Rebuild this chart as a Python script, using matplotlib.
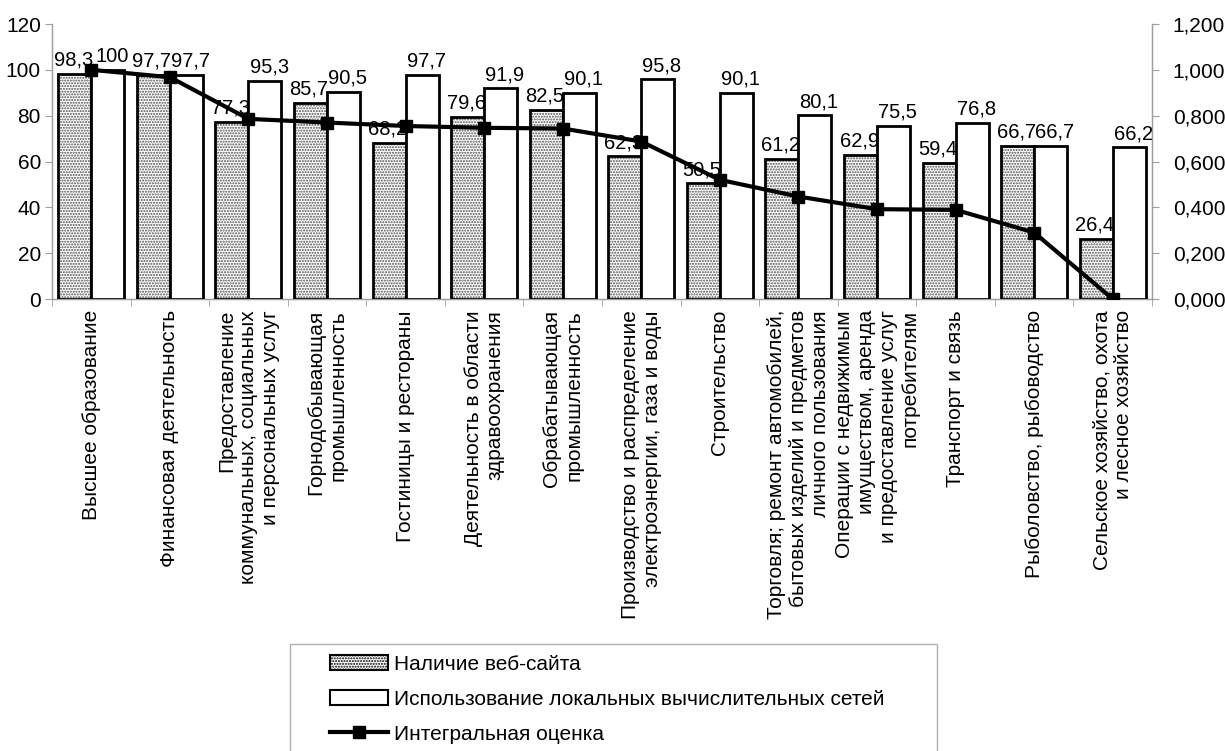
import numpy as np
import matplotlib
matplotlib.use('Agg')
import matplotlib.pyplot as plt
from matplotlib.patches import Patch, Rectangle
from matplotlib.lines import Line2D

plt.rcParams['font.family'] = ['Liberation Sans', 'DejaVu Sans']
plt.rcParams['hatch.linewidth'] = 1.0

# data
categories = [
    'Высшее образование',
    'Финансовая деятельность',
    'Предоставление\nкоммунальных, социальных\nи персональных услуг',
    'Горнодобывающая\nпромышленность',
    'Гостиницы и рестораны',
    'Деятельность в области\nздравоохранения',
    'Обрабатывающая\nпромышленность',
    'Производство и распределение\nэлектроэнергии, газа и воды',
    'Строительство',
    'Торговля; ремонт автомобилей,\nбытовых изделий и предметов\nличного пользования',
    'Операции с недвижимым\nимуществом, аренда\nи предоставление услуг\nпотребителям',
    'Транспорт и связь',
    'Рыболовство, рыбоводство',
    'Сельское хозяйство, охота\nи лесное хозяйство',
]
website = [98.3, 97.7, 77.3, 85.7, 68.2, 79.6, 82.5, 62.3, 50.5, 61.2, 62.9, 59.4, 66.7, 26.4]
lan = [100, 97.7, 95.3, 90.5, 97.7, 91.9, 90.1, 95.8, 90.1, 80.1, 75.5, 76.8, 66.7, 66.2]
integral = [1.000, 0.968, 0.786, 0.770, 0.755, 0.747, 0.744, 0.687, 0.520, 0.447, 0.392, 0.389, 0.290, 0.000]

left_ticks = [0, 20, 40, 60, 80, 100, 120]
right_ticks = [0.0, 0.2, 0.4, 0.6, 0.8, 1.0, 1.2]

series_names = ['Наличие веб-сайта',
                'Использование локальных вычислительных сетей',
                'Интегральная оценка']


def fmt_comma(v):
    # russian decimal comma, integers without decimals
    if float(v).is_integer():
        return str(int(v))
    return ('%.1f' % v).replace('.', ',')


fig = plt.figure(figsize=(12.25, 7.51), dpi=100)
ax = fig.add_axes([52/1225, 1 - 299/751, 1100/1225, 275/751])

x = np.arange(len(categories))
w = 0.42
grey = '#a0a0a0'

# dotted bars: hatch layer then black outline
ax.bar(x - w/2, website, w, color='white', edgecolor='#505050', hatch='......', linewidth=0, zorder=2)
ax.bar(x - w/2, website, w, fill=False, edgecolor='black', linewidth=2, zorder=3)
ax.bar(x + w/2, lan, w, color='white', edgecolor='black', linewidth=2, zorder=3)

for xi, v in zip(x, website):
    ax.annotate(fmt_comma(v), (xi - w/2, v), xytext=(-1, 3), textcoords='offset points',
                ha='center', va='bottom', fontsize=14.5, zorder=6)
for xi, v in zip(x, lan):
    ax.annotate(fmt_comma(v), (xi + w/2, v), xytext=(3, 3), textcoords='offset points',
                ha='center', va='bottom', fontsize=14.5, zorder=6)

ax.set_xlim(-0.5, len(categories) - 0.5)
ax.set_ylim(0, 120)
ax.set_yticks(left_ticks)
ax.set_yticklabels([str(t) for t in left_ticks], fontsize=15)

ax.set_xticks(x)
ax.set_xticklabels(categories, rotation=90, fontsize=15, multialignment='right')
ax.tick_params(axis='x', length=0, pad=8)
ax.set_xticks(np.arange(-0.5, len(categories), 1), minor=True)
ax.tick_params(axis='x', which='minor', length=5, color=grey, direction='out')
ax.tick_params(axis='y', length=5, color=grey, direction='out', pad=3)

ax.spines['top'].set_visible(False)
for s in ['left', 'right', 'bottom']:
    ax.spines[s].set_color(grey)
    ax.spines[s].set_linewidth(1)

# right axis with the integral score
ax2 = ax.twinx()
ax2.plot(x, integral, color='black', linewidth=3, marker='s', markersize=8, zorder=5)
ax2.set_ylim(0, 1.2)
ax2.set_yticks(right_ticks)
ax2.set_yticklabels([('%.3f' % t).replace('.', ',') for t in right_ticks], fontsize=15)
ax2.tick_params(axis='y', length=5, color=grey, direction='out', pad=10)
ax2.spines['top'].set_visible(False)
for s in ['left', 'right', 'bottom']:
    ax2.spines[s].set_color(grey)
ax2.set_zorder(ax.get_zorder() + 1)
ax2.patch.set_visible(False)

# legend frame runs off the bottom edge like in the source
fig.patches.append(Rectangle((290/1225, -0.05), (937 - 290)/1225, 0.05 + 107/751,
                             transform=fig.transFigure, facecolor='none',
                             edgecolor='#b0b0b0', linewidth=1))
handles = [
    Patch(facecolor='white', edgecolor='black', hatch='......', linewidth=1.5),
    Patch(facecolor='white', edgecolor='black', linewidth=1.5),
    Line2D([0], [0], color='black', linewidth=3, marker='s', markersize=8),
]
leg = fig.legend(handles, series_names, loc='upper left',
                 bbox_to_anchor=(330/1225, 1 - 655/751), fontsize=15,
                 frameon=False, handlelength=2.8, handleheight=0.7,
                 borderpad=0, labelspacing=0.76, handletextpad=0.25, borderaxespad=0)

fig.savefig('out.png', dpi=100)
